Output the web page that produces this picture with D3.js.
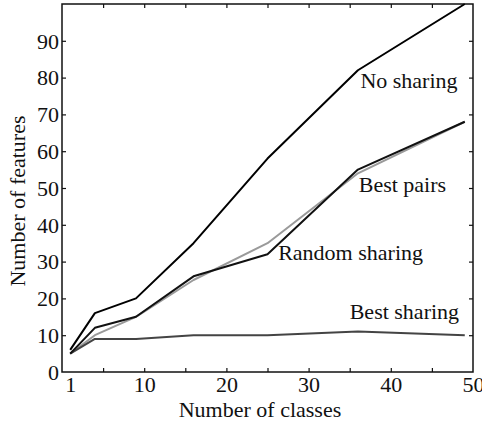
<!DOCTYPE html>
<html>
<head>
<meta charset="utf-8">
<script src="https://cdn.jsdelivr.net/npm/d3@7"></script>
<style>
  html, body { margin: 0; padding: 0; background: #fff; }
  svg { display: block; }
  svg text { font-family: "Liberation Serif", "Tinos", "Times New Roman", Times, "DejaVu Serif", serif !important; fill: #111; }
</style>
</head>
<body>
<svg id="chart" width="482" height="423"></svg>
<script>
// Number of classes at which each method was evaluated
const classes = [1, 4, 9, 16, 25, 36, 49];

// Number of features needed by each method
const noSharing     = [6, 16, 20, 35, 58, 82, 100];
const bestPairs     = [5, 12, 15, 26, 32, 55, 68];
const randomSharing = [5, 10, 15, 25, 35, 54, 68];
const bestSharing   = [5, 9, 9, 10, 10, 11, 10];

const xTickLabels = [1, 10, 20, 30, 40, 50];
const xTickMarks  = [5, 10, 15, 20, 25, 30, 35, 40, 45];
const yTickLabels = [0, 10, 20, 30, 40, 50, 60, 70, 80, 90];

const series = [
  { name: "Random sharing", values: randomSharing, color: "#9a9a9a" },
  { name: "Best sharing",   values: bestSharing,   color: "#444444" },
  { name: "Best pairs",     values: bestPairs,     color: "#111111" },
  { name: "No sharing",     values: noSharing,     color: "#000000" }
];

const labels = [
  { text: "No sharing",     cls: 36.3, val: 77.3 },
  { text: "Best pairs",     cls: 36.1, val: 49.0 },
  { text: "Random sharing", cls: 26.3, val: 30.5 },
  { text: "Best sharing",   cls: 35.0, val: 14.4 }
];

const svg = d3.select("#chart");
const padL = 62, padR = 473, padT = 4, padB = 372;

const x = d3.scaleLinear().domain([0, 50]).range([padL, padR]);
const y = d3.scaleLinear().domain([0, 100]).range([padB, padT]);

const fontSize = 22;
const serif = '"Liberation Serif", "Tinos", "Times New Roman", Times, "DejaVu Serif", serif';

// Inward tick marks on all four sides
svg.append("g").attr("transform", `translate(0,${padB})`)
  .call(d3.axisBottom(x).tickValues(xTickMarks).tickSize(-4).tickFormat(""))
  .call(g => g.select(".domain").remove());
svg.append("g").attr("transform", `translate(0,${padT})`)
  .call(d3.axisTop(x).tickValues(xTickMarks).tickSize(-4).tickFormat(""))
  .call(g => g.select(".domain").remove());
svg.append("g").attr("transform", `translate(${padL},0)`)
  .call(d3.axisLeft(y).tickValues(yTickLabels.filter(v => v > 0)).tickSize(-4).tickFormat(""))
  .call(g => g.select(".domain").remove());
svg.append("g").attr("transform", `translate(${padR},0)`)
  .call(d3.axisRight(y).tickValues(yTickLabels.filter(v => v > 0)).tickSize(-4).tickFormat(""))
  .call(g => g.select(".domain").remove());

svg.selectAll(".tick line").attr("stroke", "#111").attr("stroke-width", 1.2);

// Tick labels
const xLab = svg.append("g").attr("transform", `translate(0,${padB})`)
  .call(d3.axisBottom(x).tickValues(xTickLabels).tickSize(0).tickFormat(d3.format("d")));
xLab.attr("font-family", serif).attr("font-size", fontSize);
xLab.select(".domain").remove();
xLab.selectAll("text")
  .attr("y", 20).attr("dy", 0)
  .attr("fill", "#111");

const yLab = svg.append("g").attr("transform", `translate(${padL},0)`)
  .call(d3.axisLeft(y).tickValues(yTickLabels).tickSize(0).tickPadding(3).tickFormat(d3.format("d")));
yLab.attr("font-family", serif).attr("font-size", fontSize);
yLab.select(".domain").remove();
yLab.selectAll("text")
  .attr("dy", "0.33em")
  .attr("fill", "#111");

// Frame
svg.append("rect")
  .attr("x", padL).attr("y", padT)
  .attr("width", padR - padL).attr("height", padB - padT)
  .attr("fill", "none").attr("stroke", "#111").attr("stroke-width", 1.5);

// Lines
const line = d3.line()
  .x((d, i) => x(classes[i]))
  .y(d => y(d));

const plot = svg.append("g");
plot.selectAll("path.series")
  .data(series)
  .join("path")
  .attr("class", "series")
  .attr("d", s => line(s.values))
  .attr("fill", "none")
  .attr("stroke", s => s.color)
  .attr("stroke-width", 2)
  .attr("stroke-linejoin", "round");

// Series annotations
svg.selectAll("text.annot")
  .data(labels)
  .join("text")
  .attr("class", "annot")
  .attr("x", d => x(d.cls))
  .attr("y", d => y(d.val))
  .attr("font-family", serif)
  .attr("font-size", fontSize)
  .text(d => d.text);

// Axis titles
svg.append("text")
  .attr("x", 260)
  .attr("y", 417)
  .attr("text-anchor", "middle")
  .attr("font-family", serif)
  .attr("font-size", fontSize)
  .text("Number of classes");

svg.append("text")
  .attr("transform", `translate(25,${(padT + padB) / 2 + 13}) rotate(-90)`)
  .attr("text-anchor", "middle")
  .attr("font-family", serif)
  .attr("font-size", fontSize)
  .text("Number of features");
</script>
</body>
</html>
